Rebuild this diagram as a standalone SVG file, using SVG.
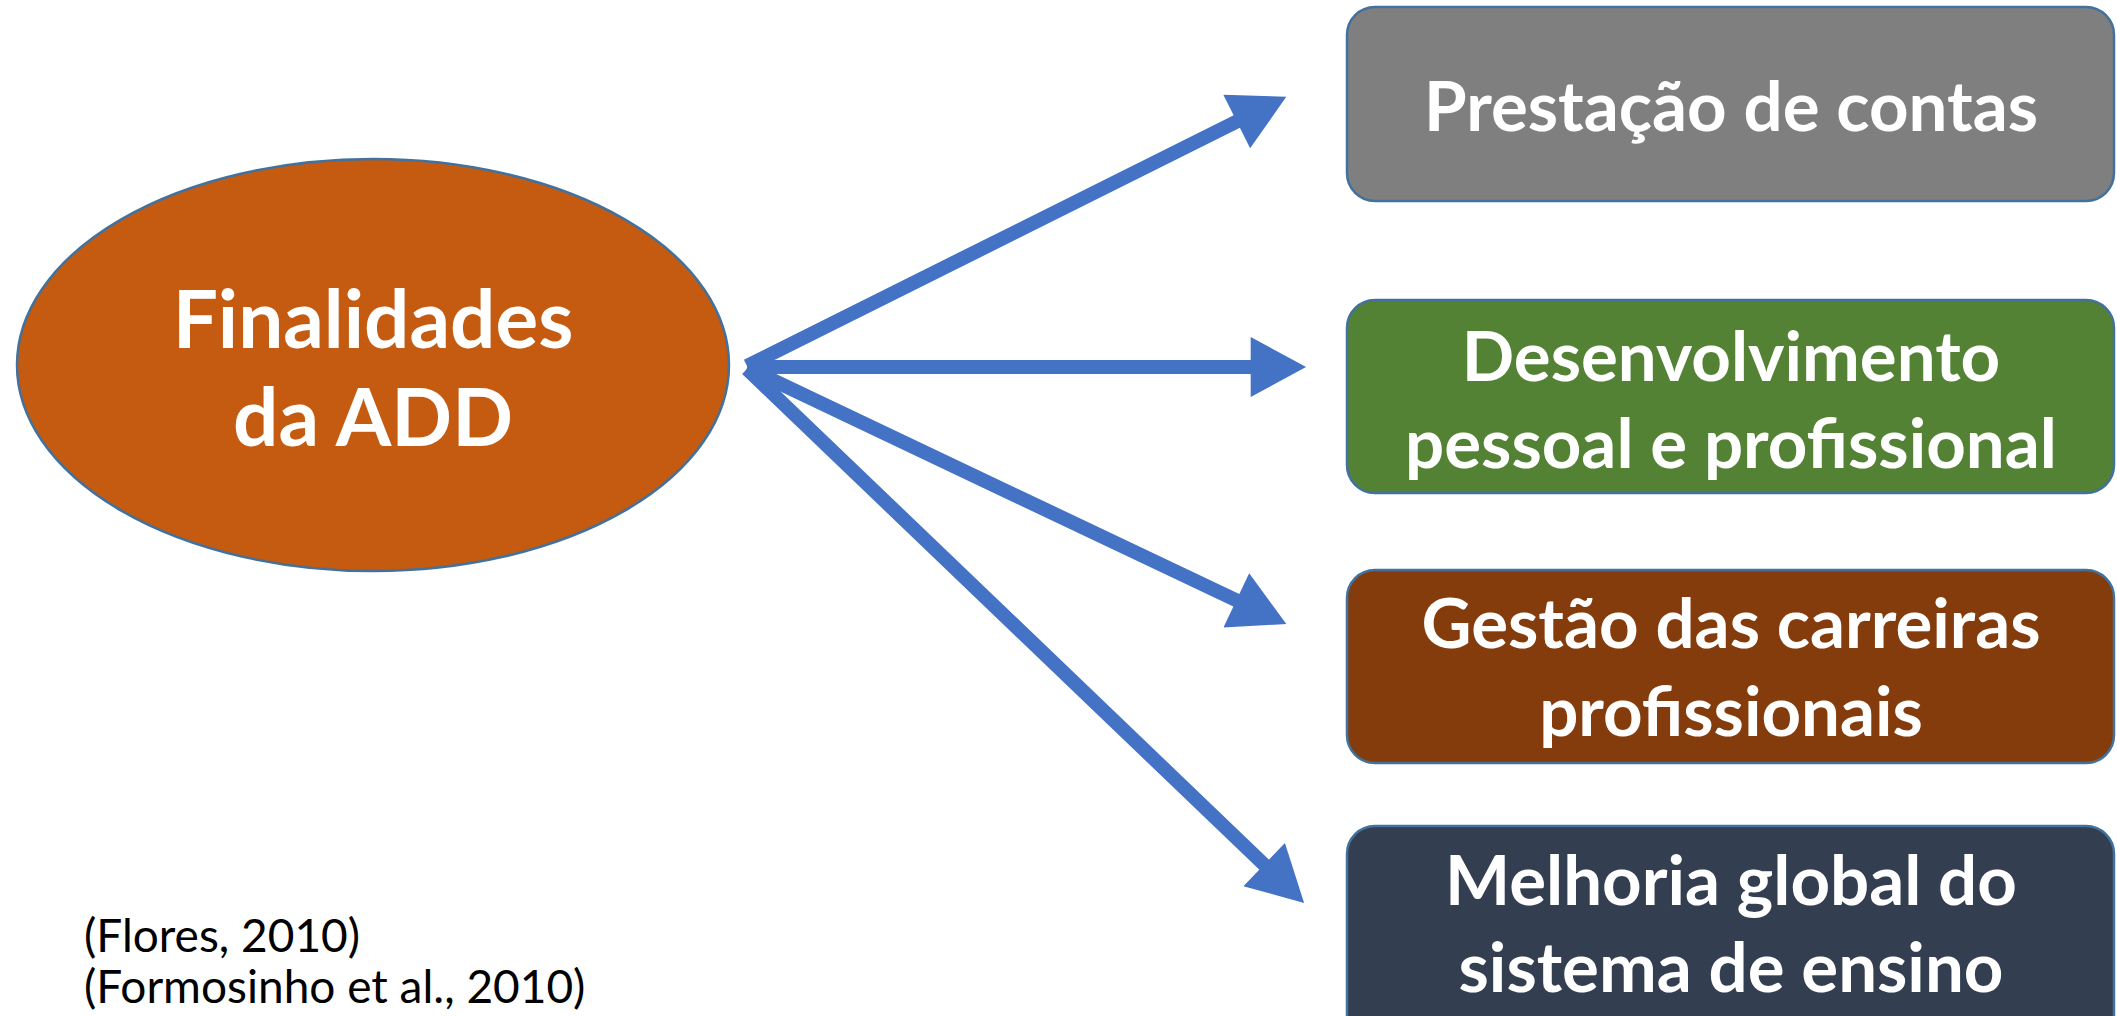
<svg xmlns="http://www.w3.org/2000/svg" width="2117" height="1016" viewBox="0 0 2117 1016">
<defs>
<style>
.lbl{font-family:Lato,"Open Sans","Liberation Sans",sans-serif;font-weight:700;fill:#FFFFFF;text-anchor:middle}
.box{stroke:#41719C;stroke-width:2.5}
.cite{font-family:Lato,"Open Sans","Liberation Sans",sans-serif;font-size:46px;fill:#000000}
.conn{stroke:#4472C4;stroke-width:14;fill:none}
</style>
<marker id="ah" markerUnits="userSpaceOnUse" markerWidth="60" markerHeight="60" refX="2" refY="26" orient="auto" viewBox="0 0 48 52">
<path d="M0,0 L48,26 L0,52 Z" fill="#4472C4"/>
</marker>
</defs>
<rect width="2117" height="1016" fill="#FFFFFF"/>
<g id="connectors">
<line class="conn" x1="747" y1="366" x2="1238.8" y2="120.5" marker-end="url(#ah)"/>
<line class="conn" x1="747" y1="367" x2="1253" y2="367" marker-end="url(#ah)"/>
<line class="conn" x1="747" y1="368" x2="1238.4" y2="601.3" marker-end="url(#ah)"/>
<line class="conn" x1="747" y1="369" x2="1265.8" y2="866.2" marker-end="url(#ah)"/>
</g>
<g id="finalidades">
<ellipse cx="373" cy="365" rx="356" ry="206" fill="#C55A11" stroke="#41719C" stroke-width="2.5"/>
<text class="lbl" font-size="80" x="373" y="348">Finalidades</text>
<text class="lbl" font-size="80" x="373" y="446">da ADD</text>
</g>
<g id="prestacao">
<rect class="box" x="1347" y="7" width="767" height="194" rx="28" fill="#7F7F7F"/>
<text class="lbl" font-size="69" x="1731" y="131">Prestação de contas</text>
</g>
<g id="desenvolvimento">
<rect class="box" x="1347" y="300" width="767" height="193" rx="28" fill="#548235"/>
<text class="lbl" font-size="69" x="1731" y="381">Desenvolvimento</text>
<text class="lbl" font-size="69" x="1731" y="468">pessoal e profissional</text>
</g>
<g id="gestao">
<rect class="box" x="1347" y="570" width="767" height="193" rx="28" fill="#843C0C"/>
<text class="lbl" font-size="69" x="1731" y="648">Gestão das carreiras</text>
<text class="lbl" font-size="69" x="1731" y="736">profissionais</text>
</g>
<g id="melhoria">
<rect class="box" x="1347" y="826" width="767" height="220" rx="28" fill="#333F50"/>
<text class="lbl" font-size="69" x="1731" y="905">Melhoria global do</text>
<text class="lbl" font-size="69" x="1731" y="992">sistema de ensino</text>
</g>
<g id="citations">
<text class="cite" x="84" y="952">(Flores, 2010)</text>
<text class="cite" x="84" y="1003">(Formosinho et al., 2010)</text>
</g>
</svg>
